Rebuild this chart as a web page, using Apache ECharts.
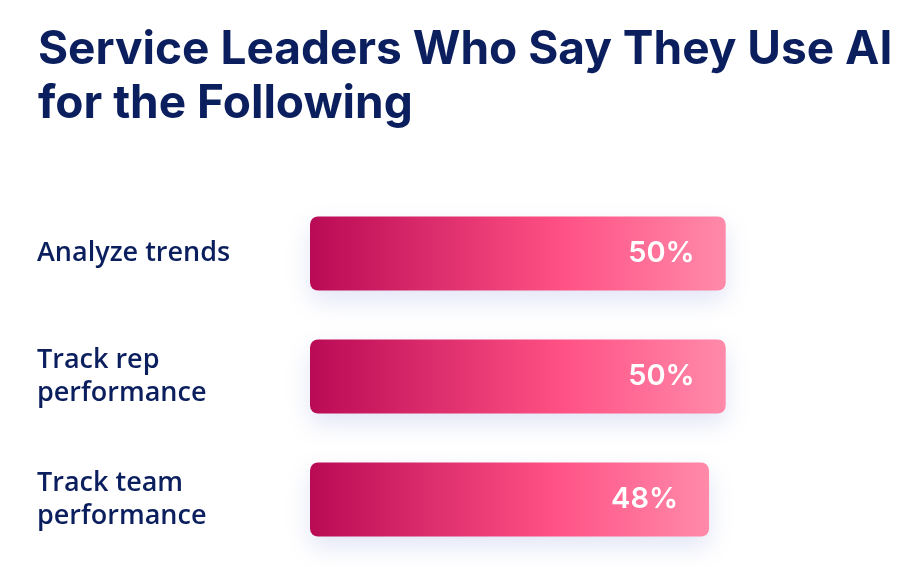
<!DOCTYPE html>
<html>
<head>
<meta charset="utf-8">
<style>
  html, body { margin: 0; padding: 0; background: #ffffff; }
  #chart { width: 920px; height: 567px; }
</style>
<script src="https://cdn.jsdelivr.net/npm/echarts@6/dist/echarts.min.js"></script>
</head>
<body>
<div id="chart"></div>
<script>
// 数据
var categories = ['Analyze trends', 'Track rep\nperformance', 'Track team\nperformance'];
var values = [50, 50, 48];

var myChart = echarts.init(document.getElementById('chart'));

var option = {
    backgroundColor: '#ffffff',
    title: {
        text: 'Service Leaders Who Say They Use AI\nfor the Following',
        left: 33,
        top: 18,
        textStyle: {
            fontFamily: 'Inter',
            fontWeight: 'bold',
            fontSize: 46,
            lineHeight: 54,
            color: '#0b1f5e'
        }
    },
    grid: {
        left: 310,
        right: 28,
        top: 192,
        bottom: 6
    },
    xAxis: {
        type: 'value',
        min: 0,
        max: 70,
        show: false
    },
    yAxis: {
        type: 'category',
        data: categories,
        inverse: true,
        axisLine: { show: false },
        axisTick: { show: false },
        splitLine: { show: false },
        axisLabel: {
            align: 'left',
            margin: 273,
            fontFamily: 'Open Sans',
            fontWeight: 600,
            fontSize: 27,
            lineHeight: 33,
            color: '#0b1f5e'
        }
    },
    series: [{
        type: 'bar',
        data: values,
        barWidth: 74,
        itemStyle: {
            borderRadius: 8,
            color: new echarts.graphic.LinearGradient(0, 0, 1, 0, [
                { offset: 0, color: '#b90a55' },
                { offset: 0.6, color: '#ff5084' },
                { offset: 1, color: '#ff8aa9' }
            ]),
            shadowBlur: 24,
            shadowOffsetY: 10,
            shadowColor: 'rgba(170, 178, 228, 0.35)'
        },
        label: {
            show: true,
            position: 'insideRight',
            distance: 31,
            formatter: '{c}%',
            fontFamily: 'Inter',
            fontWeight: 600,
            fontSize: 29,
            color: '#ffffff'
        }
    }]
};

myChart.setOption(option);
</script>
</body>
</html>
